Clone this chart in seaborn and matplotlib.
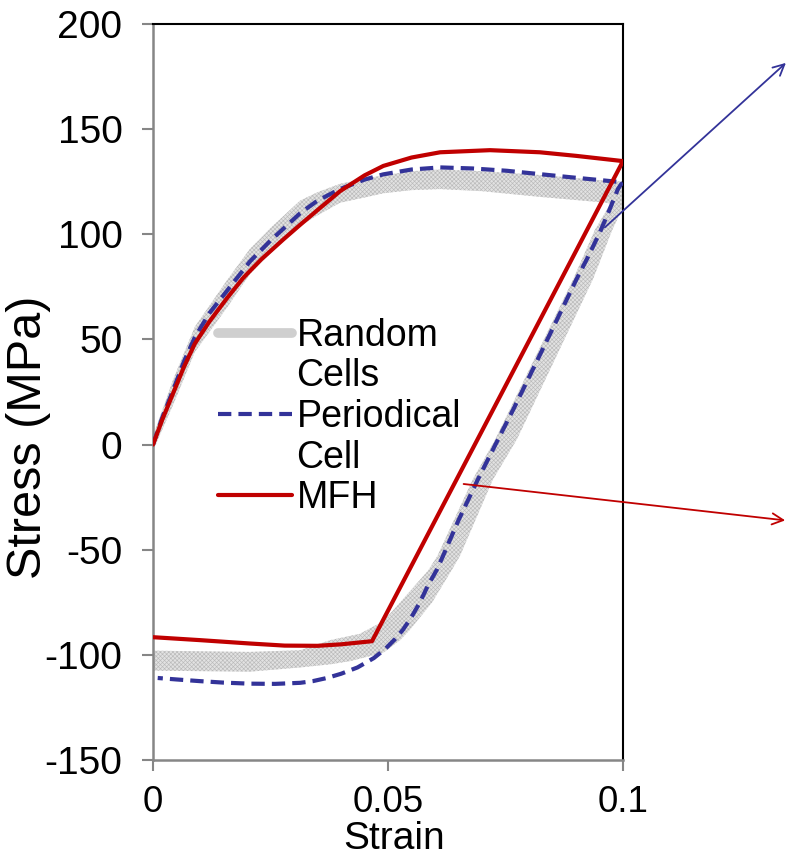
import matplotlib
matplotlib.use("Agg")
import matplotlib.pyplot as plt
from matplotlib.lines import Line2D
import seaborn as sns
import pandas as pd

# ---------------- data ----------------
# MFH (path: loading 0 -> 0.1, then unloading back to 0)
mfh_strain = [0, 0.002, 0.0043, 0.0065, 0.0089, 0.012, 0.0157, 0.0191, 0.0206, 0.023,
              0.0277, 0.0313, 0.035, 0.0398, 0.045, 0.049, 0.055, 0.0611, 0.0717, 0.0823,
              0.09, 0.1,
              0.0466, 0.04, 0.035, 0.028, 0.0206, 0.01, 0.0]
mfh_stress = [0, 12, 24.5, 36.5, 48, 58.5, 69.5, 79, 82.5, 88,
              97.5, 104.5, 111.5, 120.5, 128, 132.5, 136.5, 139, 140, 139,
              137.3, 134.8,
              -93.5, -95, -95.7, -95.6, -94.6, -93, -91.6]

# Periodical cell
pc_strain = [0, 0.002, 0.0043, 0.0065, 0.0089, 0.012, 0.0157, 0.0206, 0.025, 0.0313,
             0.035, 0.0398, 0.045, 0.049, 0.055, 0.0611, 0.068, 0.0753, 0.0823, 0.0894,
             0.095, 0.1,
             0.0995, 0.0989, 0.097, 0.0951, 0.0925, 0.0901, 0.085, 0.08, 0.0765, 0.0734,
             0.0691, 0.065, 0.0617, 0.0604, 0.0585, 0.0568, 0.055, 0.0532, 0.0515, 0.0495,
             0.047, 0.0435, 0.04, 0.037, 0.034, 0.0313, 0.026, 0.0206, 0.015, 0.01, 0.005, 0.001]
pc_stress = [0, 13, 26, 39, 51, 62.5, 73, 87, 97, 110,
             116, 121.5, 126, 128.5, 130.8, 131.8, 131.3, 130.2, 128.6, 127,
             125.8, 124.7,
             123.5, 121.4, 111, 101, 89, 78.6, 55, 32, 16, 2.4,
             -16.7, -36, -53, -59.5, -67, -75, -82, -88, -92.5, -97,
             -101.5, -106, -109, -111, -112.5, -113.3, -113.8, -113.7, -113.2, -112.5, -111.7, -111]

# Random cells band - loading branch
rc_load_strain = [0, 0.0043, 0.0089, 0.0157, 0.0206, 0.025, 0.0313, 0.035, 0.0398, 0.045,
                  0.049, 0.055, 0.0611, 0.07, 0.0823, 0.0965, 0.1]
rc_load_hi = [4, 31, 56, 78, 93, 103, 116, 120, 124, 126.5,
              128, 130, 130.8, 130, 128.2, 125.5, 125]
rc_load_lo = [-3, 19, 44, 65, 81, 91, 104, 109, 115, 117.5,
              119.5, 121, 121.5, 120.5, 117.8, 115, 113]

# Random cells band - unloading branch (upper/left edge, then lower/right edge)
rc_unl_upper_strain = [0.1, 0.0985, 0.094, 0.0894, 0.0728, 0.068, 0.0605, 0.0585, 0.0526,
                       0.049, 0.044, 0.0377, 0.0313, 0.0206, 0.0]
rc_unl_upper_stress = [125, 119, 102, 78.6, 2.4, -16.7, -53, -60, -75,
                       -84, -90, -93, -97.8, -98.6, -98]
rc_unl_lower_strain = [0.0, 0.0206, 0.0313, 0.0377, 0.0419, 0.049, 0.0526, 0.0547, 0.0594,
                       0.0636, 0.0653, 0.0723, 0.0774, 0.0936, 0.0977, 0.1]
rc_unl_lower_stress = [-107.5, -108, -106, -104.5, -103, -99, -93, -88, -75,
                       -59.5, -53, -16.7, 2.4, 78.6, 102, 113]

x_ticks = [0, 0.05, 0.1]
x_tick_labels = ["0", "0.05", "0.1"]
y_ticks = [-150, -100, -50, 0, 50, 100, 150, 200]
y_tick_labels = ["-150", "-100", "-50", "0", "50", "100", "150", "200"]

legend_labels = ["Random", "Cells", "Periodical", "Cell", "MFH"]

# ---------------- style ----------------
sns.set_theme(style="white")
plt.rcParams["font.family"] = ["Liberation Sans", "DejaVu Sans"]
plt.rcParams["axes.unicode_minus"] = False
plt.rcParams["hatch.linewidth"] = 0.45
plt.rcParams["text.color"] = "black"
plt.rcParams["axes.labelcolor"] = "black"

RED = "#C00000"
BLUE = "#333399"
BAND_FACE = "#e2e2e2"
BAND_HATCH = "#bababa"
GRAY_SPINE = "#868686"

fig = plt.figure(figsize=(7.88, 8.59), dpi=100)
ax = fig.add_axes([153 / 788, 99 / 859, 470 / 788, 736 / 859])

# random cells band
ax.fill_between(rc_load_strain, rc_load_lo, rc_load_hi, facecolor=BAND_FACE,
                edgecolor=BAND_HATCH, hatch="xxxxxxxx", linewidth=0, zorder=1)
poly_x = rc_unl_upper_strain + rc_unl_lower_strain
poly_y = rc_unl_upper_stress + rc_unl_lower_stress
ax.fill(poly_x, poly_y, facecolor=BAND_FACE, edgecolor=BAND_HATCH, hatch="xxxxxxxx",
        linewidth=0, zorder=1)

# periodical cell
df_pc = pd.DataFrame({"strain": pc_strain, "stress": pc_stress})
sns.lineplot(data=df_pc, x="strain", y="stress", sort=False, estimator=None, ax=ax,
             color=BLUE, linewidth=3.0, zorder=3)
pc_line = ax.lines[-1]
pc_line.set_dashes((3.2, 1.7))
pc_line.set_dash_capstyle("butt")

# MFH
df_mfh = pd.DataFrame({"strain": mfh_strain, "stress": mfh_stress})
sns.lineplot(data=df_mfh, x="strain", y="stress", sort=False, estimator=None, ax=ax,
             color=RED, linewidth=3.0, zorder=4)

# axes
ax.set_xlim(0, 0.1)
ax.set_ylim(-150, 200)
ax.set_xticks(x_ticks)
ax.set_xticklabels(x_tick_labels)
ax.set_yticks(y_ticks)
ax.set_yticklabels(y_tick_labels)
ax.tick_params(axis="both", colors=GRAY_SPINE, labelcolor="black",
               direction="out", length=8, width=1.5, left=True, bottom=True)
ax.tick_params(axis="y", pad=14, labelsize=28)
ax.tick_params(axis="x", pad=10, labelsize=26.5)
for side in ["left", "bottom"]:
    ax.spines[side].set_color(GRAY_SPINE)
    ax.spines[side].set_linewidth(1.8)
for side in ["top", "right"]:
    ax.spines[side].set_color("black")
    ax.spines[side].set_linewidth(1.5)
    ax.spines[side].set_visible(True)

ax.set_xlabel("Strain", fontsize=28, color="black")
ax.set_ylabel("Stress (MPa)", fontsize=35, color="black")
ax.xaxis.set_label_coords(0.513, -0.083)
ax.yaxis.set_label_coords(-0.218, 0.439)

# legend (two-line labels laid out as in the original)
handles = [
    Line2D([], [], color="#cfcfcf", linewidth=7, solid_capstyle="round"),
    Line2D([], [], color="none", linewidth=0),
    Line2D([], [], color=BLUE, linewidth=3, linestyle=(0, (3.2, 1.7))),
    Line2D([], [], color="none", linewidth=0),
    Line2D([], [], color=RED, linewidth=3),
]
leg = ax.legend(handles, legend_labels, loc="upper left", bbox_to_anchor=(0.138, 0.601),
                frameon=False, fontsize=27, handlelength=1.97, handletextpad=0.13,
                labelspacing=0.123, borderpad=0, borderaxespad=0)
for t in leg.get_texts():
    t.set_color("black")

# arrows
ax.annotate("", xy=(0.1351, 182.4), xytext=(0.0957, 102.4),
            arrowprops=dict(arrowstyle="->", color=BLUE, lw=1.3, mutation_scale=20),
            annotation_clip=False, zorder=5)
ax.annotate("", xy=(0.1351, -36.2), xytext=(0.0655, -18.6),
            arrowprops=dict(arrowstyle="->", color=RED, lw=1.3, mutation_scale=20),
            annotation_clip=False, zorder=5)

fig.savefig("out.png", dpi=100)
